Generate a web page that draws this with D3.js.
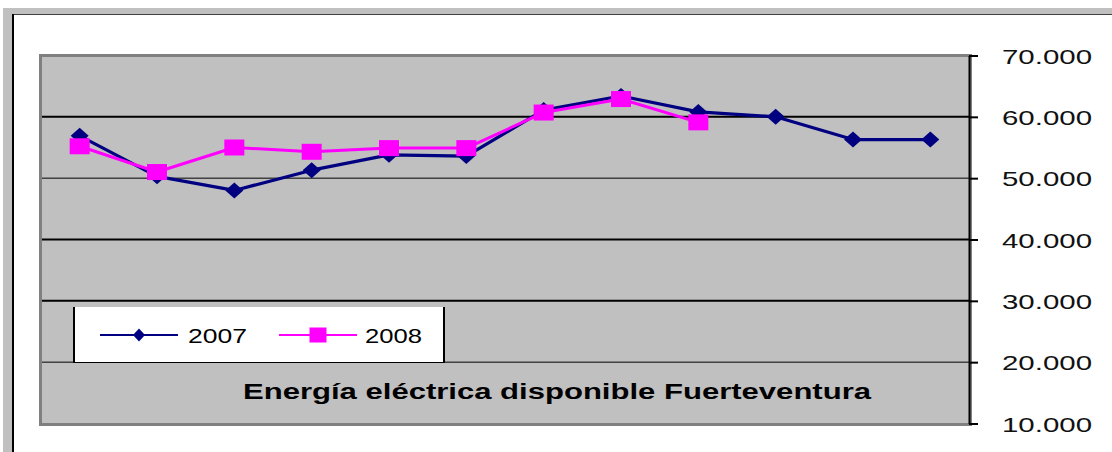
<!DOCTYPE html>
<html>
<head>
<meta charset="utf-8">
<script src="https://cdn.jsdelivr.net/npm/d3@7"></script>
<style>
  html, body { margin: 0; padding: 0; background: #ffffff; }
  svg { display: block; }
</style>
</head>
<body>
<svg id="chart" width="1112" height="452"></svg>
<script>
// ---- data ----
const categories = ["Ene", "Feb", "Mar", "Abr", "May", "Jun", "Jul", "Ago", "Sep", "Oct", "Nov", "Dic"];
const series2007 = [56900, 50300, 48000, 51300, 53800, 53600, 61100, 63400, 60800, 60000, 56300, 56300];
const series2008 = [55200, 51000, 55000, 54300, 54900, 54900, 60700, 62900, 59100];
const seriesNames = ["2007", "2008"];
const yTicks = [10000, 20000, 30000, 40000, 50000, 60000, 70000];
const chartTitle = "Energía eléctrica disponible Fuerteventura";

// ---- layout / style ----
const W = 1112, H = 452;
const plot = { left: 39, right: 970, top: 54, bottom: 426 };
const colors = { s2007: "#000080", s2008: "#ff00ff", plotBg: "#c0c0c0", plotBorder: "#808080" };
const gridWidths = { 20000: 1, 30000: 2, 40000: 2, 50000: 1, 60000: 2 };

const svg = d3.select("#chart");

// outer frame
svg.append("rect").attr("x", 3).attr("y", 8).attr("width", W - 3).attr("height", 6).attr("fill", "#c0c0c0");
svg.append("rect").attr("x", 3).attr("y", 8).attr("width", 9).attr("height", H - 8).attr("fill", "#c0c0c0");
svg.append("rect").attr("x", 12).attr("y", 14).attr("width", W - 12).attr("height", 1).attr("fill", "#404040");
svg.append("rect").attr("x", 12).attr("y", 14).attr("width", 2).attr("height", H - 14).attr("fill", "#000000");

// scales
const x = d3.scaleBand().domain(categories).range([41, 969]);
const y = d3.scaleLinear().domain([10000, 70000]).range([423.5, 55.5]);
const cx = d => x(d) + x.bandwidth() / 2;

// plot area
svg.append("rect").attr("x", plot.left).attr("y", plot.top)
  .attr("width", plot.right - plot.left).attr("height", plot.bottom - plot.top)
  .attr("fill", colors.plotBg);
svg.append("rect").attr("x", plot.left).attr("y", plot.top).attr("width", 3)
  .attr("height", plot.bottom - plot.top).attr("fill", colors.plotBorder);
svg.append("rect").attr("x", plot.left).attr("y", plot.top).attr("width", plot.right - plot.left)
  .attr("height", 3).attr("fill", colors.plotBorder);
svg.append("rect").attr("x", plot.left).attr("y", plot.bottom - 3).attr("width", plot.right - plot.left + 2)
  .attr("height", 3).attr("fill", colors.plotBorder);
svg.append("rect").attr("x", 970).attr("y", plot.top).attr("width", 2)
  .attr("height", plot.bottom - plot.top).attr("fill", colors.plotBorder);

// gridlines
svg.append("g").selectAll("line")
  .data(yTicks.filter(t => t > 10000 && t < 70000))
  .join("line")
  .attr("x1", 42).attr("x2", 969)
  .attr("y1", d => y(d)).attr("y2", d => y(d))
  .attr("stroke", "#000").attr("stroke-width", d => gridWidths[d] || 1);

// right axis
const loc = d3.formatLocale({ decimal: ",", thousands: ".", grouping: [3], currency: ["", ""] });
const fmt = loc.format(",");
const axis = d3.axisRight(y).tickValues(yTicks).tickFormat(fmt).tickSize(9).tickSizeOuter(0);
const gAxis = svg.append("g").attr("transform", "translate(969,0)").call(axis);
gAxis.select(".domain").attr("stroke", "#000").attr("stroke-width", 2);
gAxis.selectAll(".tick line").attr("stroke", "#000").attr("stroke-width", 2);
gAxis.selectAll(".tick text")
  .attr("x", 33).attr("dy", "0.36em")
  .attr("font-family", "'Liberation Sans', Arial, sans-serif")
  .attr("font-size", 21)
  .attr("fill", "#111")
  .attr("textLength", 90).attr("lengthAdjust", "spacingAndGlyphs")
  .attr("text-anchor", "start");

// legend box
const lg = svg.append("g");
lg.append("rect").attr("x", 73).attr("y", 307).attr("width", 372).attr("height", 56).attr("fill", "#fff");
lg.append("rect").attr("x", 73).attr("y", 307).attr("width", 2).attr("height", 56).attr("fill", "#000");
lg.append("rect").attr("x", 443).attr("y", 307).attr("width", 2).attr("height", 56).attr("fill", "#000");
lg.append("rect").attr("x", 73).attr("y", 362).attr("width", 372).attr("height", 1).attr("fill", "#000");

// markers
const diamond = (w, h) => `M0,${-h / 2}L${w / 2},0L0,${h / 2}L${-w / 2},0Z`;

const line = d3.line().x(d => cx(d.c)).y(d => y(d.v));
const d2007 = series2007.map((v, i) => ({ c: categories[i], v }));
const d2008 = series2008.map((v, i) => ({ c: categories[i], v }));

// series 2007
svg.append("path").datum(d2007).attr("d", line)
  .attr("fill", "none").attr("stroke", colors.s2007).attr("stroke-width", 3.2).attr("stroke-linejoin", "round");
svg.append("g").selectAll("path").data(d2007).join("path")
  .attr("transform", d => `translate(${cx(d.c)},${y(d.v)})`)
  .attr("d", diamond(18, 16)).attr("fill", colors.s2007);

// series 2008
svg.append("path").datum(d2008).attr("d", line)
  .attr("fill", "none").attr("stroke", colors.s2008).attr("stroke-width", 3).attr("stroke-linejoin", "round");
svg.append("g").selectAll("rect").data(d2008).join("rect")
  .attr("x", d => cx(d.c) - 10).attr("y", d => y(d.v) - 8)
  .attr("width", 20).attr("height", 16).attr("fill", colors.s2008);

// legend entries
const legendItems = [
  { name: seriesNames[0], color: colors.s2007, x1: 100, x2: 178, tx: 188, tl: 59, m: "diamond" },
  { name: seriesNames[1], color: colors.s2008, x1: 279, x2: 357, tx: 365, tl: 57, m: "square" }
];
legendItems.forEach(it => {
  lg.append("line").attr("x1", it.x1).attr("x2", it.x2).attr("y1", 335).attr("y2", 335)
    .attr("stroke", it.color).attr("stroke-width", 2);
  const mx = (it.x1 + it.x2) / 2;
  if (it.m === "diamond") {
    lg.append("path").attr("transform", `translate(${mx},335)`).attr("d", diamond(12, 13)).attr("fill", it.color);
  } else {
    lg.append("rect").attr("x", mx - 8.5).attr("y", 335 - 7.5).attr("width", 17).attr("height", 15).attr("fill", it.color);
  }
  lg.append("text").attr("x", it.tx).attr("y", 335).attr("dy", "0.36em")
    .attr("font-family", "'Liberation Sans', Arial, sans-serif").attr("font-size", 21)
    .attr("textLength", it.tl).attr("lengthAdjust", "spacingAndGlyphs")
    .attr("fill", "#000").text(it.name);
});

// title
svg.append("text").attr("x", 243).attr("y", 399)
  .attr("font-family", "'Liberation Sans', Arial, sans-serif").attr("font-size", 22).attr("font-weight", "bold")
  .attr("textLength", 628).attr("lengthAdjust", "spacingAndGlyphs")
  .attr("fill", "#000").text(chartTitle);
</script>
</body>
</html>
